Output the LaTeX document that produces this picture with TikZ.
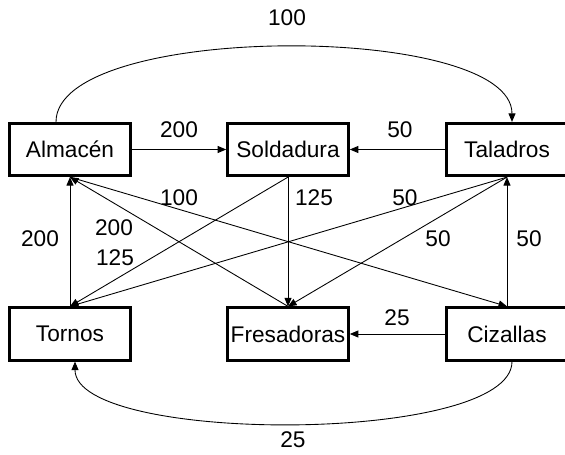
\documentclass[tikz,border=0pt]{standalone}
\usepackage{fontspec}
\setmainfont{Liberation Sans}
\usetikzlibrary{arrows.meta}

\tikzset{
    estacion/.style={draw, line width=1.55pt, minimum width=2.42cm, minimum height=1.05cm, inner sep=0pt},
    flujo/.style={-{Triangle[length=0.17cm,width=0.14cm]}, line width=0.5pt},
}

\begin{document}
\begin{tikzpicture}[x=0.02cm, y=-0.02cm, font=\fontsize{12.9}{15}\selectfont]
    \useasboundingbox (0,0) rectangle (565,455);
    \node[estacion] (alm) at (70,149.5) {Almac\'en};
    \node[estacion] (sol) at (288,149.5) {Soldadura};
    \node[estacion] (tal) at (507,149.5) {Taladros};
    \node[estacion] (tor) at (70,334) {Tornos};
    \node[estacion] (fre) at (288,334) {Fresadoras};
    \node[estacion] (ciz) at (507,334) {Cizallas};
    \draw[flujo] (alm) -- (sol);
    \draw[flujo] (tal) -- (sol);
    \draw[flujo] (tor.north) -- (alm.south);
    \draw[flujo] (fre.north) -- (alm.south);
    \draw[flujo] (alm.south) -- (ciz.north);
    \draw[flujo] (sol.south) -- (fre.north);
    \draw[flujo] (sol.south) -- (tor.north);
    \draw[flujo] (tal.south) -- (tor.north);
    \draw[flujo] (tal.south) -- (fre.north);
    \draw[flujo] (ciz.north) -- (tal.south);
    \draw[flujo] (ciz) -- (fre);
    \draw[flujo] ([xshift=-0.28cm]alm.north) .. controls +(0,-100) and +(0,-100) .. ([xshift=0.1cm]tal.north);
    \draw[flujo] ([xshift=0.1cm]ciz.south) .. controls +(0,83) and +(0,83) .. ([xshift=0.1cm]tor.south);
    % cantidades
    \node (q1) at (287,18) {100};
    \node (q2) at (179,130) {200};
    \node (q3) at (400,130) {50};
    \node (q4) at (179,198) {100};
    \node (q5) at (314,198) {125};
    \node (q6) at (405,198) {50};
    \node (q7) at (40,239) {200};
    \node (q8) at (114,228) {200};
    \node (q9) at (115,258) {125};
    \node (q10) at (438,239) {50};
    \node (q11) at (529,239) {50};
    \node (q12) at (397,318) {25};
    \node (q13) at (293,440) {25};
\end{tikzpicture}
\end{document}
